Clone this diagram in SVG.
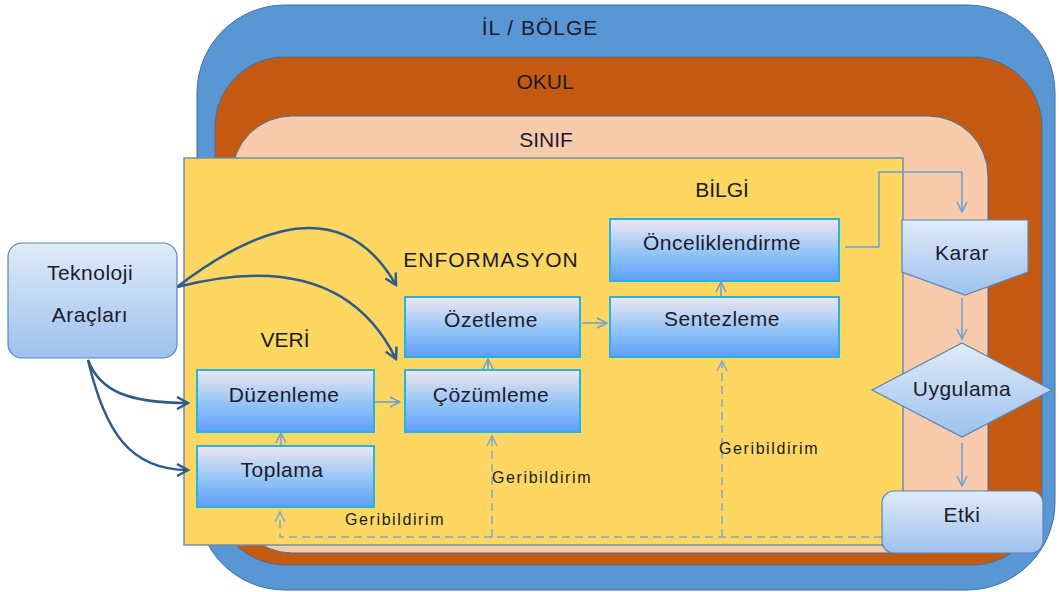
<svg xmlns="http://www.w3.org/2000/svg" width="1059" height="592" viewBox="0 0 1059 592">
<style>
.lbl{font-family:"Liberation Sans",Arial,sans-serif;fill:#1b1b2b;text-anchor:middle}
.big{font-size:21px}
.box{font-size:21px;letter-spacing:0.5px}
.fb{font-size:16px;letter-spacing:1.6px;text-anchor:start}
.pbox{fill:url(#gBox);stroke:#22b4e6;stroke-width:2}
.sbox{fill:url(#gSide);stroke:#5b85b0;stroke-width:1.2}
.lc{fill:none;stroke:#6a9fd4;stroke-width:1.5}
.dc{fill:none;stroke:#2f5b88;stroke-width:2.5}
.fbk{fill:none;stroke:#7ea6cf;stroke-width:1.5;stroke-dasharray:8 5}
</style>
<defs>
<linearGradient id="gBox" x1="0" y1="0" x2="0" y2="1">
<stop offset="0" stop-color="#f0e6f2"/>
<stop offset="0.55" stop-color="#92c4f6"/>
<stop offset="1" stop-color="#5f9ef7"/>
</linearGradient>
<linearGradient id="gSide" x1="0" y1="0" x2="0" y2="1">
<stop offset="0" stop-color="#e0ebf8"/>
<stop offset="1" stop-color="#9dc1ee"/>
</linearGradient>
<marker id="la" viewBox="0 0 12 12" refX="11" refY="6" markerWidth="12" markerHeight="12" orient="auto" markerUnits="userSpaceOnUse">
<path d="M1,1 L11,6 L1,11" fill="none" stroke="#6a9fd4" stroke-width="1.5"/>
</marker>
<marker id="fa" viewBox="0 0 12 12" refX="11" refY="6" markerWidth="12" markerHeight="12" orient="auto" markerUnits="userSpaceOnUse">
<path d="M1,1 L11,6 L1,11" fill="none" stroke="#7ea6cf" stroke-width="1.5"/>
</marker>
<marker id="da" viewBox="0 0 14 14" refX="12" refY="7" markerWidth="14" markerHeight="14" orient="auto" markerUnits="userSpaceOnUse">
<path d="M1,1 L12,7 L1,13" fill="none" stroke="#2f5b88" stroke-width="2.5"/>
</marker>
</defs>

<g id="il-bolge">
<rect x="197" y="5" width="858" height="585" rx="88" ry="88" fill="#5897d3" stroke="#41719c" stroke-width="1"/>
<text class="lbl big" x="540" y="35" letter-spacing="1">İL / BÖLGE</text>
</g>
<g id="okul">
<rect x="215" y="57" width="827" height="508" rx="70" ry="70" fill="#c45a11" stroke="#41719c" stroke-width="1"/>
<text class="lbl big" x="545" y="89">OKUL</text>
</g>
<g id="sinif">
<rect x="232" y="116" width="756" height="437" rx="60" ry="60" fill="#f8cbad" stroke="#41719c" stroke-width="1"/>
<text class="lbl big" x="546" y="147">SINIF</text>
</g>
<g id="yellow-area">
<rect x="184" y="158" width="719" height="387" fill="#fdd762" stroke="#6d8fb0" stroke-width="1.5"/>
<text class="lbl big" x="722" y="197">BİLGİ</text>
<text class="lbl big" x="491" y="267" letter-spacing="1">ENFORMASYON</text>
<text class="lbl big" x="285" y="347">VERİ</text>
</g>

<g id="connectors">
<path class="lc" d="M375,402 H400" marker-end="url(#la)"/>
<path class="lc" d="M582,323 H607" marker-end="url(#la)"/>
<path class="lc" d="M488,383 V359" marker-end="url(#la)"/>
<path class="lc" d="M281,457 V433" marker-end="url(#la)"/>
<path class="lc" d="M721,307 V282" marker-end="url(#la)"/>
<path class="lc" d="M845,247 H879 V172 H962 V212" marker-end="url(#la)"/>
<path class="lc" d="M962,298 V339" marker-end="url(#la)"/>
<path class="lc" d="M962,443 V486" marker-end="url(#la)"/>
<path class="fbk" d="M882,537 H280 V512" marker-end="url(#fa)"/>
<path class="fbk" d="M492,537 V436" marker-end="url(#fa)"/>
<path class="fbk" d="M722,537 V361" marker-end="url(#fa)"/>
<path class="dc" d="M177,287 Q330,170 396,285" marker-end="url(#da)"/>
<path class="dc" d="M177,287 Q340,245 396,359" marker-end="url(#da)"/>
<path class="dc" d="M88,360 C100,392 130,403 188,403" marker-end="url(#da)"/>
<path class="dc" d="M88,360 C105,432 130,470 188,470" marker-end="url(#da)"/>
<text class="lbl fb" x="345" y="525">Geribildirim</text>
<text class="lbl fb" x="492" y="483">Geribildirim</text>
<text class="lbl fb" x="719" y="454">Geribildirim</text>
</g>

<g id="teknoloji">
<rect x="8" y="243" width="169" height="115" rx="14" ry="14" class="sbox"/>
<text class="lbl box" x="90" y="280">Teknoloji</text>
<text class="lbl box" x="90" y="322">Araçları</text>
</g>
<g id="ozetleme">
<rect x="405" y="297" width="175" height="60" class="pbox"/>
<text class="lbl box" x="491" y="327">Özetleme</text>
</g>
<g id="cozumleme">
<rect x="405" y="370" width="175" height="62" class="pbox"/>
<text class="lbl box" x="491" y="402">Çözümleme</text>
</g>
<g id="duzenleme">
<rect x="197" y="370" width="177" height="62" class="pbox"/>
<text class="lbl box" x="284" y="402">Düzenleme</text>
</g>
<g id="toplama">
<rect x="197" y="446" width="177" height="61" class="pbox"/>
<text class="lbl box" x="282" y="477">Toplama</text>
</g>
<g id="onceliklendirme">
<rect x="610" y="219" width="229" height="62" class="pbox"/>
<text class="lbl box" x="722" y="250">Önceliklendirme</text>
</g>
<g id="sentezleme">
<rect x="610" y="297" width="229" height="60" class="pbox"/>
<text class="lbl box" x="722" y="326">Sentezleme</text>
</g>
<g id="karar">
<path d="M902,220 H1028 V272 L965,295 L902,272 Z" class="sbox"/>
<text class="lbl box" x="962" y="260">Karar</text>
</g>
<g id="uygulama">
<path d="M962,343 L1052,390 L962,437 L872,390 Z" class="sbox"/>
<text class="lbl box" x="962" y="396">Uygulama</text>
</g>
<g id="etki">
<rect x="882" y="491" width="161" height="62" rx="12" ry="12" class="sbox"/>
<text class="lbl box" x="962" y="522">Etki</text>
</g>
</svg>
